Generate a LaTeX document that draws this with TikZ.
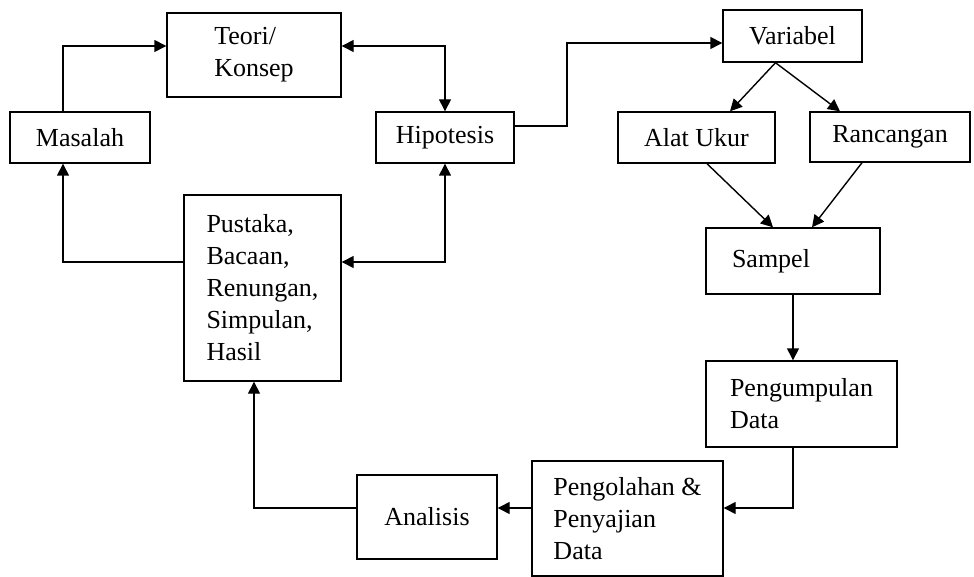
\documentclass[tikz,border=0pt]{standalone}
\usepackage{fontspec}
\setmainfont{Liberation Serif}
\usetikzlibrary{arrows.meta}

\begin{document}
\begin{tikzpicture}[x=1pt, y=-1pt,
  box/.style={draw, line width=1.4pt, inner sep=0pt, align=left,
    font=\fontsize{26}{32}\selectfont},
  lbox/.style={box, inner xsep=26pt, inner ysep=0pt},
  arr/.style={line width=1.4pt, -{Triangle[length=12pt,width=12pt]}},
  biarr/.style={line width=1.4pt, {Triangle[length=12pt,width=12pt]}-{Triangle[length=12pt,width=12pt]}}]

\useasboundingbox (0,0) rectangle (974,577);

% Boxes
\node[box, minimum width=174pt, minimum height=84pt] (teori) at (254,55) {Teori/\\Konsep};
\node[box, minimum width=140pt, minimum height=51pt] (masalah) at (80,137.5) {Masalah};
\node[box, minimum width=138pt, minimum height=51pt] (hipotesis) at (445,137.5) {Hipotesis};
\node[box, minimum width=157pt, minimum height=186pt] (pustaka) at (262.5,288) {Pustaka,\\Bacaan,\\Renungan,\\Simpulan,\\Hasil};
\node[box, minimum width=139pt, minimum height=52pt] (variabel) at (792.5,36) {Variabel};
\node[box, minimum width=157pt, minimum height=51pt] (alatukur) at (696.5,137.5) {Alat Ukur};
\node[box, minimum width=160pt, minimum height=50pt] (rancangan) at (890,137) {Rancangan};
\node[lbox, text width=122pt, minimum height=66pt] (sampel) at (793,261) {Sampel};
\node[box, minimum width=191pt, minimum height=86pt] (kumpul) at (801.5,404) {Pengumpulan\\Data};
\node[box, minimum width=191pt, minimum height=115pt] (olah) at (627.5,518.5) {Pengolahan \&\\Penyajian\\Data};
\node[box, minimum width=140pt, minimum height=84pt] (analisis) at (427,517) {Analisis};

% Bends
\coordinate (mq) at (63,46);
\coordinate (tq) at (445,46);
\coordinate (pq) at (445,262);
\coordinate (lq) at (63,262);
\coordinate (hq) at (567,126);
\coordinate (vq) at (567,43);
\coordinate (kq) at (793,508);
\coordinate (aq) at (254,508);

% Left loop
\draw[arr] (mq |- masalah.north) -- (mq) -- (mq -| teori.west);
\draw[biarr] (tq -| teori.east) -- (tq) -- (hipotesis.north);
\draw[biarr] (pq -| pustaka.east) -- (pq) -- (hipotesis.south);
\draw[arr] (lq -| pustaka.west) -- (lq) -- (lq |- masalah.south);

% To Variabel
\draw[arr] (hq -| hipotesis.east) -- (hq) -- (vq) -- (vq -| variabel.west);
\draw[arr] ([xshift=-17pt]variabel.south) -- ([xshift=33.5pt]alatukur.north);
\draw[arr] ([xshift=-17pt]variabel.south) -- ([xshift=-50pt]rancangan.north);
\draw[arr] ([xshift=10.5pt]alatukur.south) -- ([xshift=-20pt]sampel.north);
\draw[arr] ([xshift=-28pt]rancangan.south) -- ([xshift=19pt]sampel.north);

% Down and back
\draw[arr] (sampel.south) -- (sampel.south |- kumpul.north);
\draw[arr] (kq |- kumpul.south) -- (kq) -- (kq -| olah.east);
\draw[arr] (kq -| olah.west) -- (kq -| analisis.east);
\draw[arr] (aq -| analisis.west) -- (aq) -- (aq |- pustaka.south);

\end{tikzpicture}
\end{document}
